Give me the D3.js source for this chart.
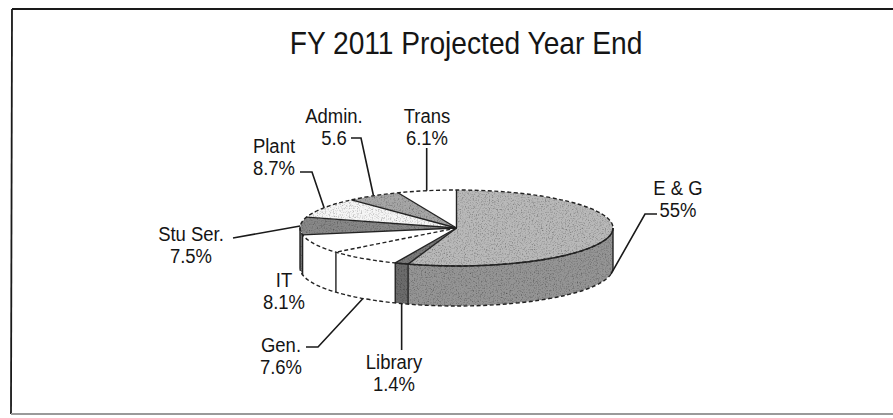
<!DOCTYPE html>
<html>
<head>
<meta charset="utf-8">
<script src="https://cdn.jsdelivr.net/npm/d3@7/dist/d3.min.js"></script>
<style>
  html, body { margin: 0; padding: 0; background: #fff; }
  svg { display: block; }
  text { font-family: "Liberation Sans", Arial, Helvetica, sans-serif; fill: #151515; }
</style>
</head>
<body>
<script>
// Budget shares, FY 2011 projected year end
const categories  = ["E & G", "Library", "Gen.", "IT", "Stu Ser.", "Plant", "Admin.", "Trans"];
const shares      = [55, 1.4, 7.6, 8.1, 7.5, 8.7, 5.6, 6.1];
const shareLabels = ["55%", "1.4%", "7.6%", "8.1%", "7.5%", "8.7%", "5.6", "6.1%"];
const title = "FY 2011 Projected Year End";

const W = 893, H = 418;
const svg = d3.select("body").append("svg").attr("width", W).attr("height", H);

// grainy fill used on the shaded slices
const defs = svg.append("defs");
const grain = defs.append("filter").attr("id", "grain")
  .attr("x", 0).attr("y", 0).attr("width", "100%").attr("height", "100%");
grain.append("feTurbulence").attr("type", "fractalNoise").attr("baseFrequency", 0.75)
  .attr("numOctaves", 2).attr("seed", 7).attr("result", "t");
grain.append("feColorMatrix").attr("in", "t").attr("type", "saturate").attr("values", 0).attr("result", "g");
const ct = grain.append("feComponentTransfer").attr("in", "g").attr("result", "c");
["feFuncR", "feFuncG", "feFuncB"].forEach(f => ct.append(f).attr("type", "linear").attr("slope", 2.0).attr("intercept", -0.05));
ct.append("feFuncA").attr("type", "linear").attr("slope", 0).attr("intercept", 1);
grain.append("feBlend").attr("in", "SourceGraphic").attr("in2", "c").attr("mode", "multiply").attr("result", "m");
grain.append("feComposite").attr("in", "m").attr("in2", "SourceGraphic").attr("operator", "in");

// frame
svg.append("line").attr("x1", 12).attr("y1", 9).attr("x2", W).attr("y2", 9)
  .attr("stroke", "#1a1a1a").attr("stroke-width", 2.2);
svg.append("line").attr("x1", 12).attr("y1", 9).attr("x2", 11).attr("y2", 414)
  .attr("stroke", "#1a1a1a").attr("stroke-width", 1.8);
svg.append("line").attr("x1", 11).attr("y1", 414).attr("x2", W).attr("y2", 414)
  .attr("stroke", "#9a9a9a").attr("stroke-width", 2);

// title
svg.append("text").attr("transform", "translate(466,54) scale(0.88,1)")
  .attr("text-anchor", "middle").style("font-size", "32px").text(title);

// 3-D pie geometry
const cx = 456.5, cy = 228, rx = 156.5, ry = 38, depth = 40;
const pt = (a, dy = 0) => [cx + rx * Math.sin(a), cy - ry * Math.cos(a) + dy];
const P = p => p[0].toFixed(2) + "," + p[1].toFixed(2);
const HALF = Math.PI / 2, THREE_HALF = 3 * Math.PI / 2;

const arcs = d3.pie().sort(null).value(d => d)(shares);

const topFill  = d3.scaleOrdinal(categories, ["#b9b9b9", "#7a7a7a", "#ffffff", "#ffffff", "#888888", "#f6f6f6", "#a6a6a6", "#ffffff"]);
const sideFill = d3.scaleOrdinal(categories, ["#959595", "#6c6c6c", "#ffffff", "#ffffff", "#7c7c7c", "#eeeeee", "#959595", "#ffffff"]);
const shaded   = d3.scaleOrdinal(categories, [true, true, false, false, true, true, true, false]);
const ink = "#222222";

function topPath(a0, a1) {
  return `M${cx},${cy} L${P(pt(a0))} A${rx},${ry} 0 ${a1 - a0 > Math.PI ? 1 : 0} 1 ${P(pt(a1))} Z`;
}
function sidePath(a0, a1) {
  const s = Math.max(a0, HALF), e = Math.min(a1, THREE_HALF);
  if (s >= e) return null;
  const lg = e - s > Math.PI ? 1 : 0;
  return `M${P(pt(s))} A${rx},${ry} 0 ${lg} 1 ${P(pt(e))} L${P(pt(e, depth))} A${rx},${ry} 0 ${lg} 0 ${P(pt(s, depth))} Z`;
}

const pie = svg.append("g");

// outer walls, then top faces
arcs.forEach((d, i) => {
  const c = categories[i], p = sidePath(d.startAngle, d.endAngle);
  if (!p) return;
  pie.append("path").attr("d", p).attr("fill", sideFill(c))
    .attr("filter", shaded(c) ? "url(#grain)" : null);
});
arcs.forEach((d, i) => {
  const c = categories[i];
  pie.append("path").attr("d", topPath(d.startAngle, d.endAngle)).attr("fill", topFill(c))
    .attr("filter", shaded(c) ? "url(#grain)" : null);
});

// outlines: dashed rims, solid edges beside the shaded slices
const rims = pie.append("g").attr("fill", "none").attr("stroke", ink).attr("stroke-width", 1.4);
rims.append("ellipse").attr("cx", cx).attr("cy", cy).attr("rx", rx).attr("ry", ry)
  .attr("stroke-dasharray", "4,2.5");
rims.append("path")
  .attr("d", `M${P(pt(HALF, depth))} A${rx},${ry} 0 0 1 ${P(pt(THREE_HALF, depth))}`)
  .attr("stroke-dasharray", "4,2.5");
// the lower rim of the top face over the shaded wall is drawn solid
rims.append("path")
  .attr("d", `M${P(pt(HALF))} A${rx},${ry} 0 0 1 ${P(pt(arcs[1].endAngle))}`);
[HALF, THREE_HALF].forEach(a => rims.append("line")
  .attr("x1", pt(a)[0]).attr("y1", pt(a)[1]).attr("x2", pt(a, depth)[0]).attr("y2", pt(a, depth)[1]));

arcs.forEach((d, i) => {
  const a = d.startAngle, prev = categories[(i + categories.length - 1) % categories.length];
  const hard = shaded(categories[i]) && categories[i] !== "Plant" || shaded(prev) && prev !== "Plant" || categories[i] === "Plant";
  const e = pt(a);
  rims.append("line").attr("x1", cx).attr("y1", cy).attr("x2", e[0]).attr("y2", e[1])
    .attr("stroke-dasharray", hard ? null : "4,2.5");
  if (a > HALF && a < THREE_HALF) {
    rims.append("line").attr("x1", e[0]).attr("y1", e[1]).attr("x2", e[0]).attr("y2", e[1] + depth);
  }
});

// labels and leader lines
const layout = {
  "E & G":    { x: 678, y: 195, elbow: [[657, 214], [645, 214]] },
  "Library":  { x: 394, y: 369, drop: 350 },
  "Gen.":     { x: 281, y: 352, elbow: [[306, 347], [318, 347]] },
  "IT":       { x: 284, y: 287 },
  "Stu Ser.": { x: 191, y: 241, elbow: [[233, 238]] },
  "Plant":    { x: 274, y: 153, elbow: [[300, 172], [312, 172]] },
  "Admin.":   { x: 334, y: 123, elbow: [[351, 138], [361, 138]] },
  "Trans":    { x: 427, y: 123, rise: 148 }
};

arcs.forEach((d, i) => {
  const c = categories[i], L = layout[c];
  const mid = (d.startAngle + d.endAngle) / 2;
  const front = mid > HALF && mid < THREE_HALF;
  const end = pt(mid, front ? depth : 0);
  let pts = null;
  if (L.elbow) pts = [...L.elbow, end];
  else if (L.drop) pts = [[end[0], L.drop], end];
  else if (L.rise) pts = [[end[0], L.rise], end];
  if (pts) {
    svg.append("path").attr("d", d3.line()(pts))
      .attr("fill", "none").attr("stroke", "#1a1a1a").attr("stroke-width", 1.6);
  }
  const g = svg.append("g").attr("transform", `translate(${L.x},${L.y}) scale(0.88,1)`);
  g.append("text").attr("text-anchor", "middle").style("font-size", "21px").text(c);
  g.append("text").attr("text-anchor", "middle").attr("y", 22).style("font-size", "21px").text(shareLabels[i]);
});
</script>
</body>
</html>
